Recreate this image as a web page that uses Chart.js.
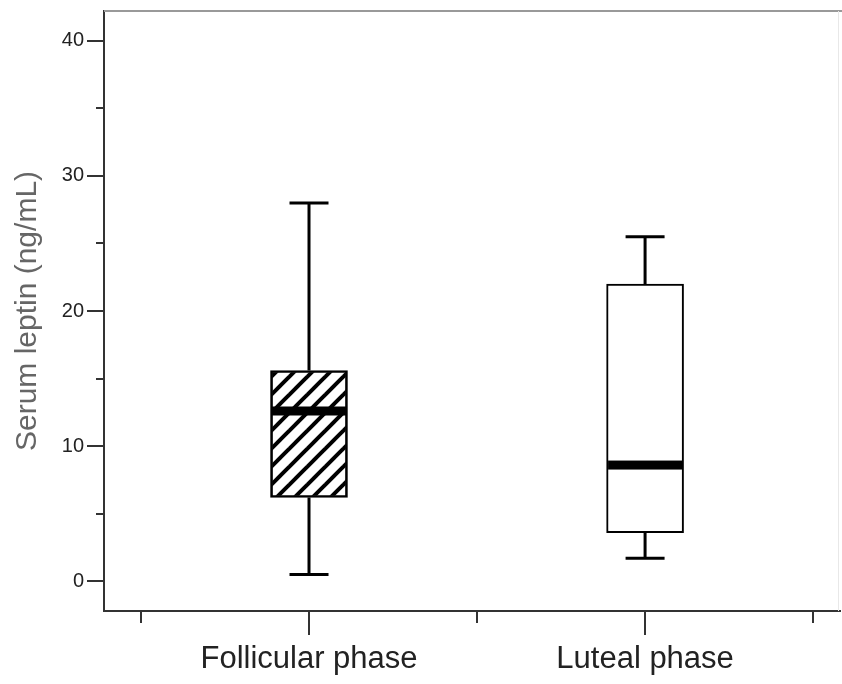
<!DOCTYPE html>
<html>
<head>
<meta charset="utf-8">
<script src="https://cdn.jsdelivr.net/npm/chart.js@4.4.0/dist/chart.umd.min.js"></script>
<style>
    html, body { margin: 0; padding: 0; background: #fff; }
</style>
</head>
<body>
<canvas id="graficoLeptina" width="842" height="684"></canvas>
<script>
// dados do boxplot (ng/mL)
const fases = ['Follicular phase', 'Luteal phase'];
const posicoes = [1, 2];
const minimos = [0.5, 1.7];
const quartil1 = [6.2, 3.6];
const medianas = [12.6, 8.6];
const quartil3 = [15.6, 22.0];
const maximos = [28.0, 25.5];

// marcas dos eixos
const yMaiores = [0, 10, 20, 30, 40];
const yMenores = [5, 15, 25, 35];
const xDivisoes = [0.5, 1.5, 2.5];

document.addEventListener('DOMContentLoaded', function () {
    // seleciona a tag canvas
    const ctx = document.getElementById('graficoLeptina').getContext('2d');

    // padrão hachurado da caixa da fase folicular
    // (linhas passam da borda do tile para não deixar falhas nos cantos)
    const tile = document.createElement('canvas');
    tile.width = 18;
    tile.height = 18;
    const t = tile.getContext('2d');
    t.strokeStyle = '#000';
    t.lineWidth = 4;
    [-18, 0, 18].forEach(function (k) {
        t.beginPath();
        t.moveTo(k - 6, 24);
        t.lineTo(k + 24, -6);
        t.stroke();
    });
    const hachura = ctx.createPattern(tile, 'repeat');

    // bigodes, medianas, marcas dos eixos e moldura
    const boxplotExtras = {
        id: 'boxplotExtras',
        afterDatasetsDraw(chart) {
            const { ctx, scales: { x, y } } = chart;
            ctx.save();
            ctx.strokeStyle = '#000';
            ctx.fillStyle = '#000';
            ctx.lineWidth = 3;
            posicoes.forEach(function (p, i) {
                const xc = x.getPixelForValue(p);
                const yMax = y.getPixelForValue(maximos[i]);
                const yMin = y.getPixelForValue(minimos[i]);
                ctx.beginPath();
                ctx.moveTo(xc, yMax);
                ctx.lineTo(xc, y.getPixelForValue(quartil3[i]));
                ctx.moveTo(xc, y.getPixelForValue(quartil1[i]));
                ctx.lineTo(xc, yMin);
                ctx.moveTo(xc - 19.5, yMax);
                ctx.lineTo(xc + 19.5, yMax);
                ctx.moveTo(xc - 19.5, yMin);
                ctx.lineTo(xc + 19.5, yMin);
                ctx.stroke();
                // mediana grossa
                const ym = y.getPixelForValue(medianas[i]);
                ctx.fillRect(xc - 37, ym - 4.5, 74, 9);
            });
            ctx.restore();
        },
        afterDraw(chart) {
            const { ctx, chartArea, scales: { x, y } } = chart;
            ctx.save();
            ctx.strokeStyle = '#333';
            ctx.lineWidth = 2;
            ctx.beginPath();
            yMaiores.forEach(function (v) {
                const py = Math.round(y.getPixelForValue(v));
                ctx.moveTo(chartArea.left - 17, py);
                ctx.lineTo(chartArea.left, py);
            });
            yMenores.forEach(function (v) {
                const py = Math.round(y.getPixelForValue(v));
                ctx.moveTo(chartArea.left - 8, py);
                ctx.lineTo(chartArea.left, py);
            });
            posicoes.forEach(function (v) {
                const px = Math.round(x.getPixelForValue(v));
                ctx.moveTo(px, chartArea.bottom);
                ctx.lineTo(px, chartArea.bottom + 24);
            });
            xDivisoes.forEach(function (v) {
                const px = Math.round(x.getPixelForValue(v));
                ctx.moveTo(px, chartArea.bottom);
                ctx.lineTo(px, chartArea.bottom + 12);
            });
            ctx.stroke();
            // moldura superior e direita
            ctx.strokeStyle = '#999';
            ctx.beginPath();
            ctx.moveTo(chartArea.left, chartArea.top);
            ctx.lineTo(842, chartArea.top);
            ctx.stroke();
            ctx.strokeStyle = '#e8e8e8';
            ctx.lineWidth = 1;
            ctx.beginPath();
            ctx.moveTo(chartArea.right - 1.5, chartArea.top);
            ctx.lineTo(chartArea.right - 1.5, chartArea.bottom);
            ctx.stroke();
            ctx.restore();
        }
    };

    new Chart(ctx, {
        type: 'bar',
        data: {
            datasets: [{
                label: 'Serum leptin',
                data: posicoes.map(function (p, i) {
                    return { x: p, y: [quartil1[i], quartil3[i]] };
                }),
                backgroundColor: [hachura, '#fff'],
                borderColor: '#000',
                borderWidth: 2,
                borderSkipped: false,
                barThickness: 77
            }]
        },
        options: {
            responsive: false,
            animation: false,
            layout: {
                padding: { top: 11, right: 2, left: 0, bottom: 0 }
            },
            plugins: {
                legend: { display: false },
                tooltip: { enabled: false }
            },
            scales: {
                x: {
                    type: 'linear',
                    min: 0.39,
                    max: 2.58,
                    offset: false,
                    afterBuildTicks: function (scale) {
                        scale.ticks = posicoes.map(function (v) { return { value: v }; });
                    },
                    afterFit: function (scale) { scale.height = 73; },
                    grid: {
                        offset: false,
                        drawOnChartArea: false,
                        tickLength: 24,
                        tickColor: 'rgba(0,0,0,0)'
                    },
                    border: { display: true, color: '#333', width: 2 },
                    ticks: {
                        padding: 6,
                        maxRotation: 0,
                        color: '#222',
                        font: { family: 'Liberation Sans, Arial, sans-serif', size: 31 },
                        callback: function (value) {
                            const i = posicoes.indexOf(value);
                            return i >= 0 ? fases[i] : '';
                        }
                    }
                },
                y: {
                    min: -2.2,
                    max: 42.2,
                    afterBuildTicks: function (scale) {
                        scale.ticks = yMaiores.map(function (v) { return { value: v }; });
                    },
                    afterFit: function (scale) { scale.width = 104; },
                    grid: {
                        drawOnChartArea: false,
                        tickLength: 17,
                        tickColor: 'rgba(0,0,0,0)'
                    },
                    border: { display: true, color: '#333', width: 2 },
                    ticks: {
                        padding: 3,
                        color: '#222',
                        font: { family: 'Liberation Sans, Arial, sans-serif', size: 20, lineHeight: 0.8 }
                    },
                    title: {
                        display: true,
                        text: 'Serum leptin (ng/mL)',
                        color: '#666',
                        padding: { top: 10, bottom: 0 },
                        font: { family: 'Liberation Sans, Arial, sans-serif', size: 30 }
                    }
                }
            }
        },
        plugins: [boxplotExtras]
    });
});
</script>
</body>
</html>
